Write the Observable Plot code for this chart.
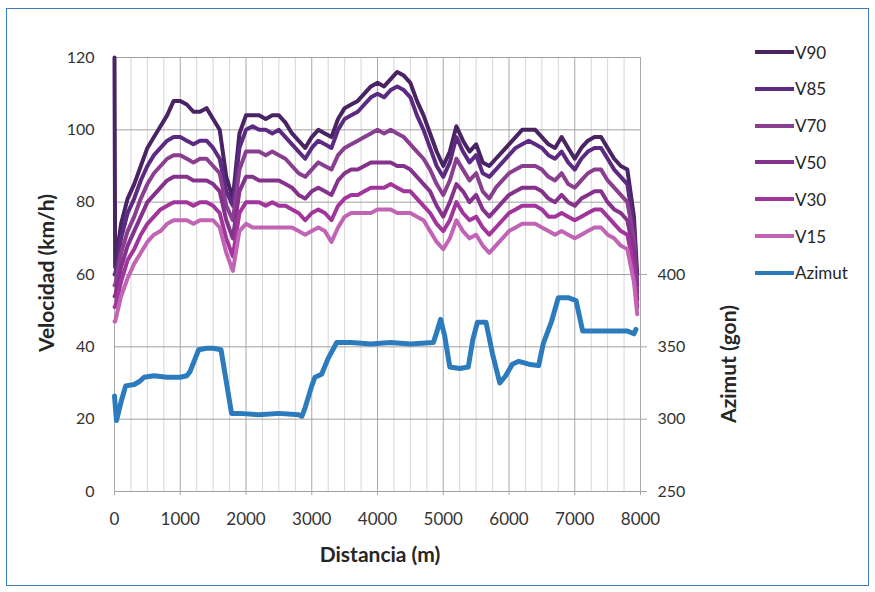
<!DOCTYPE html>
<html>
<head>
<meta charset="utf-8">
<script src="https://cdn.jsdelivr.net/npm/d3@7"></script>
<script src="https://cdn.jsdelivr.net/npm/@observablehq/plot@0.6"></script>
<style>
  body { margin: 0; background: #fff; font-family: Lato, "Open Sans", sans-serif; }
  #wrap { position: relative; width: 875px; height: 592px; overflow: hidden; }
  #frame { position: absolute; left: 6px; top: 8px; width: 863px; height: 578px; border: 1px solid #3b7dc0; box-sizing: border-box; }
  #chart { position: absolute; left: 0; top: 0; }
  .title { position: absolute; font-weight: bold; font-size: 21px; color: #262626; white-space: nowrap; }
  .rot { transform: translate(-50%, -50%) rotate(-90deg); }
  .hor { transform: translate(-50%, -50%); }
  #legend { position: absolute; left: 755px; top: 41px; }
  .item { position: absolute; left: 0; height: 22px; display: flex; align-items: center; white-space: nowrap; font-size: 17px; color: #262626; }
  .swatch { width: 39px; height: 4px; margin-right: 1px; }
</style>
</head>
<body>
<div id="wrap">
  <div id="frame"></div>
  <div id="chart"></div>
  <div class="title rot" style="left:45px; top:273px;">Velocidad (km/h)</div>
  <div class="title rot" style="left:727px; top:364px;">Azimut (gon)</div>
  <div class="title hor" style="left:380px; top:553px;">Distancia (m)</div>
  <div id="legend"></div>
</div>
<script>
// Distance (m) sampling positions of the speed profiles
const dist = [0, 10,
  100, 200, 300, 400, 500, 600, 700, 800, 900, 1000,
  1100, 1200, 1300, 1400, 1500, 1600, 1700, 1800, 1900, 2000,
  2100, 2200, 2300, 2400, 2500, 2600, 2700, 2800, 2900, 3000,
  3100, 3200, 3300, 3400, 3500, 3600, 3700, 3800, 3900, 4000,
  4100, 4200, 4300, 4400, 4500, 4600, 4700, 4800, 4900, 5000,
  5100, 5200, 5300, 5400, 5500, 5600, 5700, 5800, 5900, 6000,
  6100, 6200, 6300, 6400, 6500, 6600, 6700, 6800, 6900, 7000,
  7100, 7200, 7300, 7400, 7500, 7600, 7700, 7800, 7900,
  7950];

const v90 = [120, 62,
  74, 81, 85, 90, 95, 98, 101, 104, 108, 108,
  107, 105, 105, 106, 103, 100, 87, 81, 99, 104,
  104, 104, 103, 104, 104, 102, 99, 97, 95, 98,
  100, 99, 98, 103, 106, 107, 108, 110, 112, 113,
  112, 114, 116, 115, 113, 108, 104, 99, 94, 90,
  94, 101, 97, 94, 96, 91, 90, 92, 94, 96,
  98, 100, 100, 100, 98, 96, 95, 98, 95, 92,
  95, 97, 98, 98, 95, 92, 90, 89, 76,
  60];

const v85 = [60, 60,
  70, 77, 81, 86, 90, 93, 95, 97, 98, 98,
  97, 96, 97, 97, 95, 92, 83, 79, 95, 100,
  101, 100, 100, 99, 100, 98, 96, 94, 92, 95,
  97, 96, 95, 100, 103, 104, 105, 107, 109, 110,
  109, 111, 112, 111, 109, 104, 100, 95, 90, 87,
  91, 98, 94, 91, 93, 88, 87, 89, 91, 93,
  95, 96, 97, 96, 95, 93, 92, 94, 91, 89,
  92, 94, 95, 95, 92, 89, 87, 85, 73,
  57];

const v70 = [57, 57,
  66, 72, 76, 81, 85, 88, 90, 92, 93, 93,
  92, 91, 92, 92, 90, 88, 79, 75, 89, 94,
  94, 94, 93, 94, 93, 92, 90, 88, 87, 89,
  91, 90, 89, 93, 95, 96, 97, 98, 99, 100,
  99, 100, 99, 98, 96, 94, 92, 89, 85, 82,
  86, 92, 89, 86, 88, 83, 81, 84, 86, 88,
  89, 90, 90, 90, 89, 87, 86, 88, 85, 84,
  86, 88, 89, 89, 86, 84, 82, 80, 70,
  55];

const v50 = [54, 54,
  62, 68, 72, 76, 80, 82, 84, 86, 87, 87,
  87, 86, 86, 86, 85, 83, 75, 70, 83, 87,
  87, 86, 86, 86, 86, 85, 84, 82, 81, 83,
  84, 83, 82, 86, 88, 89, 89, 90, 91, 91,
  91, 91, 90, 90, 89, 87, 85, 83, 79, 76,
  80, 85, 83, 80, 82, 78, 76, 78, 80, 82,
  83, 84, 84, 84, 83, 81, 80, 82, 80, 79,
  81, 82, 83, 83, 80, 78, 77, 75, 66,
  53];

const v30 = [51, 51,
  58, 64, 67, 71, 74, 76, 78, 79, 80, 80,
  80, 79, 80, 80, 79, 77, 70, 65, 77, 80,
  80, 80, 79, 80, 79, 79, 78, 77, 75, 77,
  78, 77, 75, 79, 81, 82, 82, 83, 84, 84,
  84, 85, 84, 83, 83, 81, 79, 77, 74, 72,
  75, 80, 77, 75, 76, 73, 71, 73, 75, 77,
  78, 79, 79, 79, 78, 76, 76, 77, 76, 75,
  76, 77, 78, 78, 76, 74, 72, 71, 62,
  51];

const v15 = [47, 47,
  54, 59, 63, 66, 69, 71, 72, 74, 75, 75,
  75, 74, 75, 75, 75, 73, 66, 61, 72, 74,
  73, 73, 73, 73, 73, 73, 73, 72, 71, 72,
  73, 72, 69, 73, 76, 77, 77, 77, 77, 78,
  78, 78, 77, 77, 77, 76, 75, 72, 69, 67,
  70, 75, 72, 70, 71, 68, 66, 68, 70, 72,
  73, 74, 74, 74, 73, 72, 71, 72, 71, 70,
  71, 72, 73, 73, 71, 70, 68, 67, 58,
  49];

// Azimut (gon) profile
const azDist = [0, 30, 100, 170, 300, 380, 450, 600, 800, 1000, 1100, 1150, 1280, 1400, 1500, 1620,
  1780, 1900, 2200, 2500, 2800, 2850, 2900, 3000, 3050, 3150, 3250, 3380, 3600, 3900, 4200, 4500,
  4850, 4900, 4960, 5020, 5100, 5250, 5380, 5450, 5520, 5650, 5750, 5860, 5950, 6050, 6150, 6300,
  6450, 6520, 6650, 6750, 6900, 7020, 7120, 7300, 7600, 7800, 7900, 7930];
const azVal = [316, 299, 312, 323, 324, 326, 329, 330, 329, 329, 330, 333, 348, 349, 349, 348,
  304, 304, 303, 304, 303, 302, 308, 323, 329, 331, 342, 353, 353, 352, 353, 352,
  353, 360, 369, 358, 336, 335, 336, 355, 367, 367, 345, 325, 330, 338, 340, 338,
  337, 352, 368, 384, 384, 382, 361, 361, 361, 361, 359, 362];

const names = ["V90", "V85", "V70", "V50", "V30", "V15"];
const values = [v90, v85, v70, v50, v30, v15];
const colors = ["#4a2362", "#5c2a82", "#8a3e8f", "#85328d", "#a2359c", "#c264b4"];
const azColor = "#2c7cbd";

const xTicks = [0, 1000, 2000, 3000, 4000, 5000, 6000, 7000, 8000];
const yTicks = [0, 20, 40, 60, 80, 100, 120];
const azTicks = [250, 300, 350, 400];

const rows = names.flatMap((name, k) => dist.map((d, i) => ({d, v: values[k][i], name})));
const azRows = azDist.map((d, i) => ({d, az: azVal[i]}));
// secondary axis: 250 gon at 0 km/h, 550 gon at 120 km/h
const azToY = a => (a - 250) / 2.5;

const minorX = d3.range(0, 8001, 250).filter(d => d % 1000 !== 0);

const chart = Plot.plot({
  width: 875,
  height: 592,
  marginLeft: 114,
  marginRight: 235,
  marginTop: 57,
  marginBottom: 101,
  style: {fontFamily: "Lato, 'Open Sans', sans-serif", fontSize: "16px", color: "#333", background: "transparent"},
  x: {domain: [0, 8000]},
  y: {domain: [0, 120]},
  color: {domain: names, range: colors},
  marks: [
    Plot.ruleX(minorX, {stroke: "#d6d6d6", strokeWidth: 1}),
    Plot.ruleX(xTicks, {stroke: "#a8a8a8", strokeWidth: 1}),
    Plot.ruleY(yTicks, {stroke: "#a0a0a0", strokeWidth: 1}),
    Plot.axisX({ticks: xTicks, tickFormat: d => String(d), tickSize: 4, tickPadding: 17, label: null, stroke: "#a8a8a8", fill: "#333", fontSize: 17}),
    Plot.axisY({ticks: yTicks, tickSize: 0, tickPadding: 20, label: null, fill: "#333"}),
    Plot.axisY({anchor: "right", ticks: azTicks.map(azToY), tickFormat: y => String(Math.round(250 + 2.5 * y)), tickSize: 6, tickPadding: 11, label: null, stroke: "#a8a8a8", fill: "#333"}),
    Plot.line(rows, {x: "d", y: "v", z: "name", stroke: "name", strokeWidth: 4, strokeLinejoin: "round"}),
    Plot.line(azRows, {x: "d", y: d => azToY(d.az), stroke: azColor, strokeWidth: 5, strokeLinejoin: "round"})
  ]
});
document.getElementById("chart").appendChild(chart);

const legend = document.getElementById("legend");
const legItems = names.map((n, i) => ({n, c: colors[i]})).concat([{n: "Azimut", c: azColor}]);
legItems.forEach((it, i) => {
  const el = document.createElement("div");
  el.className = "item";
  el.style.top = (i * 36.8) + "px";
  el.innerHTML = `<span class="swatch" style="background:${it.c}"></span><span>${it.n}</span>`;
  legend.appendChild(el);
});
</script>
</body>
</html>
